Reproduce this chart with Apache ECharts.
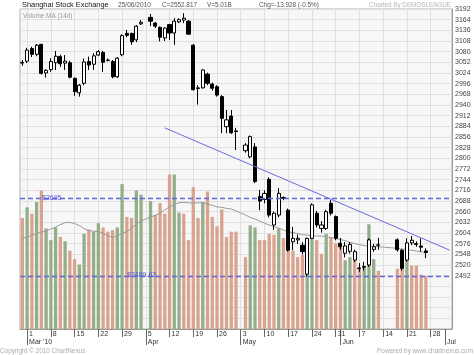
<!DOCTYPE html>
<html><head><meta charset="utf-8">
<script src="https://cdn.jsdelivr.net/npm/echarts@6/dist/echarts.min.js"></script>
<style>html,body{margin:0;padding:0;background:#fff}#c{width:474px;height:355px}</style>
</head><body><div id="c"></div>
<script>
// ---- data ----
const tradeDates = [
'2010-02-26',
'2010-03-01','2010-03-02','2010-03-03','2010-03-04','2010-03-05',
'2010-03-08','2010-03-09','2010-03-10','2010-03-11','2010-03-12',
'2010-03-15','2010-03-16','2010-03-17','2010-03-18','2010-03-19',
'2010-03-22','2010-03-23','2010-03-24','2010-03-25','2010-03-26',
'2010-03-29','2010-03-30','2010-03-31','2010-04-01','2010-04-02',
'2010-04-06','2010-04-07','2010-04-08','2010-04-09',
'2010-04-12','2010-04-13','2010-04-14','2010-04-15','2010-04-16',
'2010-04-19','2010-04-20','2010-04-21','2010-04-22','2010-04-23',
'2010-04-26','2010-04-27','2010-04-28','2010-04-29','2010-04-30',
'2010-05-04','2010-05-05','2010-05-06','2010-05-07',
'2010-05-10','2010-05-11','2010-05-12','2010-05-13','2010-05-14',
'2010-05-17','2010-05-18','2010-05-19','2010-05-20','2010-05-21',
'2010-05-24','2010-05-25','2010-05-26','2010-05-27','2010-05-28',
'2010-05-31','2010-06-01','2010-06-02','2010-06-03','2010-06-04',
'2010-06-07','2010-06-08','2010-06-09','2010-06-10','2010-06-11',
'2010-06-17','2010-06-18',
'2010-06-21','2010-06-22','2010-06-23','2010-06-24','2010-06-25'];

const openPx = [3050,
3055,3088,3073,3099,3024, 3033,3051,3067,3050,3051, 3010,2972,2997,3054,3047,
3071,3078,3058,3054,3014, 3072,3128,3128,3111,3153, 3170,3155,3144,3116,
3151,3129,3158,3163,3160, 3097,2983,2985,3021,2995, 2988,2962,2883,2911,2872,
2820,2804,2830,2700, 2692,2745,2625,2651,2697, 2664,2581,2586,2572,2496,
2590,2656,2616,2616,2682, 2647,2577,2551,2556,2533, 2512,2514,2520,2561,2572,
2586,2559, 2533,2578,2576,2570,2557];
const highPx = [3058,
3090,3093,3100,3101,3034, 3063,3082,3072,3071,3056, 3012,2995,3062,3067,3076,
3084,3082,3062,3058,3066, 3126,3137,3130,3150,3163, 3179,3158,3146,3144,
3153,3168,3168,3181,3163, 3100,2992,3034,3025,2999, 2992,2966,2927,2927,2880,
2840,2860,2840,2717, 2716,2750,2660,2722,2700, 2668,2620,2600,2580,2592,
2682,2662,2635,2665,2691, 2650,2591,2580,2580,2560, 2525,2528,2590,2575,2591,
2590,2562, 2590,2596,2582,2590,2564];
const lowPx = [3043,
3050,3066,3068,3020,3012, 3027,3032,3040,3032,3010, 2964,2962,2992,3032,3032,
3069,3027,3054,3010,3011, 3068,3118,3098,3105,3150, 3147,3142,3107,3108,
3111,3098,3155,3155,3124, 2978,2941,2983,2992,2978, 2962,2866,2866,2864,2822,
2815,2800,2735,2664, 2682,2645,2612,2645,2690, 2555,2559,2575,2548,2489.63,
2588,2618,2605,2612,2650, 2585,2560,2540,2550,2528, 2502,2505,2515,2555,2560,
2555,2505, 2529,2572,2568,2555,2538];
const closePx = [3052,
3084,3073,3097,3023,3031, 3054,3068,3048,3055,3013, 2975,2992,3053,3045,3069,
3080,3052,3057,3014,3063, 3122,3123,3106,3147,3157, 3160,3147,3118,3142,
3129,3160,3164,3168,3126, 2980,2985,3032,2997,2984, 2966,2905,2901,2867,2870,
2835,2857,2739,2688, 2708,2651,2656,2708,2695, 2559,2590,2590,2555,2590,
2678,2625,2625,2660,2656, 2590,2568,2570,2574,2555, 2511,2516,2586,2568,2573,
2560,2511, 2578,2585,2574,2566.745,2552.817];
// volume in billions of shares
const volume = [10.5,
11.5,10.9,12.0,13.1,9.5, 8.4,9.6,8.7,8.3,7.4, 6.6,6.1,9.0,9.4,9.2,
10.0,9.6,9.2,9.35,9.6, 13.7,10.6,10.5,13.1,12.7, 12.1,10.8,11.9,10.9,
14.6,14.6,11.0,10.9,8.4, 13.4,10.5,12.0,13.0,10.6, 9.7,11.3,8.7,9.2,9.2,
6.8,9.8,9.6,8.4, 8.4,9.0,8.9,9.5,8.6, 8.2,7.4,6.8,7.0,8.6,
9.2,8.4,7.1,9.0,8.7, 8.1,8.1,6.5,6.8,6.5, 5.85,5.85,9.9,6.6,5.5,
5.7,5.7, 6.6,6.0,6.0,5.15,5.01];
const volumeUp = [0,
1,0,1,0,1, 1,1,0,1,0, 0,1,1,0,1, 1,0,0,0,1, 1,0,0,1,1, 1,0,0,0,
0,1,1,0,0, 0,0,1,0,0, 0,0,0,0,0, 0,1,1,0, 0,0,0,1,0, 0,0,0,0,1,
1,0,0,1,0, 0,0,1,1,0, 0,1,1,1,0, 0,0, 1,0,0,0,0];
const volumeMA14 = [8.59,
8.68,8.87,9.02,9.16,9.3, 9.44,9.64,9.87,10.05,10.08, 9.97,9.78,9.49,9.3,9.25,
9.2,9.06,8.82,8.65,8.78, 9.06,9.19,9.54,9.92,10.2, 10.6,10.73,10.94,11.26,
11.54,11.78,11.93,11.97,11.93, 11.9,11.93,11.95,11.83,11.69, 11.54,11.5,11.4,11.35,11.16,
10.78,10.54,10.4,10.2, 10.0,9.83,9.68,9.54,9.35, 9.19,9.11,9.02,8.92,8.87,
8.84,8.8,8.78,8.73,8.63, 8.54,8.46,8.35,8.2,8.08, 7.97,7.89,7.82,7.82,7.78,
7.63,7.56, 7.51,7.44,7.37,7.3,7.2];
const priceTicks = {min: 2352, max: 3192, step: 28, lowestLabel: 2492};
const levelLines = [2695, 2489.63];
const trendLine = [['2010-04-09', 2880], ['2010-07-02', 2559]];
const monthMarks = {'2010-03-01': "Mar '10", '2010-04-05': 'Apr', '2010-05-03': 'May', '2010-06-01': 'Jun', '2010-07-01': 'Jul'};
const header = {name: 'Shanghai Stock Exchange', date: '25/06/2010', close: 'C=2552.817', vol: 'V=5.01B', chg: 'Chg=-13.928 (-0.5%)'};

// ---- build ----
const categories = [];
for (let t = Date.UTC(2010,1,26); t <= Date.UTC(2010,6,2); t += 86400000) {
  const d = new Date(t), wd = d.getUTCDay();
  if (wd > 0 && wd < 6) categories.push(d.toISOString().slice(0,10));
}
const idx = new Map(tradeDates.map((d,i)=>[d,i]));
const isMonday = (v) => new Date(v + 'T00:00:00Z').getUTCDay() === 1;
const candleData = categories.map(d => { const i = idx.get(d); return i === undefined ? ['-','-','-','-'] : [openPx[i], closePx[i], lowPx[i], highPx[i]]; });
const GREEN = '#94ae89', SALMON = '#d9a38f';
const volData = categories.map(d => { const i = idx.get(d); return i === undefined ? '-' : {value: volume[i], itemStyle: {color: volumeUp[i] ? GREEN : SALMON}}; });
const maData = categories.map(d => { const i = idx.get(d); return i === undefined ? '-' : volumeMA14[i]; });

const FONT = '"Liberation Sans", Arial, sans-serif';
const chart = echarts.init(document.getElementById('c'), null, {renderer: 'canvas'});
const option = {
  animation: false,
  backgroundColor: '#ffffff',
  textStyle: {fontFamily: FONT},
  grid: {left: 20, right: 22, top: 9, bottom: 26, show: true, backgroundColor: '#f7f7f7', borderColor: '#b0b0b0', borderWidth: 1},
  xAxis: [{
    type: 'category', data: categories, boundaryGap: true, position: 'bottom',
    axisLine: {show: true, lineStyle: {color: '#999'}},
    axisTick: {show: true, alignWithLabel: true, interval: (i, v) => isMonday(v), length: 8, lineStyle: {color: '#666'}},
    axisLabel: {show: true, interval: (i, v) => isMonday(v), formatter: v => String(+v.slice(8)), align: 'left', margin: 2, padding: [0,0,0,2], fontSize: 7, color: '#333', fontFamily: FONT},
    splitLine: {show: true, alignWithLabel: true, interval: (i, v) => isMonday(v), lineStyle: {color: '#e0e0e0', width: 1}}
  }, {
    type: 'category', data: categories, boundaryGap: true, position: 'bottom',
    axisLine: {show: false},
    axisTick: {show: true, alignWithLabel: true, interval: (i, v) => !!monthMarks[v], length: 16, lineStyle: {color: '#666'}},
    axisLabel: {show: true, interval: (i, v) => !!monthMarks[v], formatter: v => monthMarks[v] || '', align: 'left', margin: 10, padding: [0,0,0,2], fontSize: 7, color: '#333', fontFamily: FONT},
    splitLine: {show: false}
  }],
  yAxis: [{
    type: 'value', position: 'right', min: priceTicks.min, max: priceTicks.max, interval: priceTicks.step,
    axisLine: {show: true, lineStyle: {color: '#999'}},
    axisTick: {show: false},
    axisLabel: {fontSize: 7, color: '#444', margin: 3, fontFamily: FONT,
      formatter: v => v >= priceTicks.lowestLabel ? String(v) : ''},
    splitLine: {show: true, lineStyle: {color: '#e0e0e0', width: 1}}
  }, {
    type: 'value', min: 0, max: 30.25, show: false, splitLine: {show: false}
  }],
  series: [{
    type: 'bar', name: 'Volume', xAxisIndex: 0, yAxisIndex: 1, data: volData, barWidth: 3.3, z: 1, silent: true
  }, {
    type: 'line', name: 'Volume MA (14d)', xAxisIndex: 0, yAxisIndex: 1, data: maData, connectNulls: true,
    symbol: 'none', lineStyle: {color: '#9a9a9a', width: 1}, z: 2, silent: true
  }, {
    type: 'line', xAxisIndex: 1, yAxisIndex: 0, data: [], silent: true
  }, {
    type: 'candlestick', name: 'SSE', xAxisIndex: 0, yAxisIndex: 0, data: candleData, barWidth: 3.6, z: 3,
    itemStyle: {color: '#ffffff', color0: '#000000', borderColor: '#000000', borderColor0: '#000000', borderWidth: 1},
    markLine: {
      silent: true, symbol: ['none','none'], animation: false,
      data: [
        {yAxis: levelLines[0], lineStyle: {type: [5,3], color: '#6464e0', width: 1.4},
          label: {show: true, formatter: '$' + levelLines[0], position: 'insideStartTop', distance: [22, -3], color: '#5555dd', fontSize: 7, fontFamily: FONT}},
        {yAxis: levelLines[1], lineStyle: {type: [5,3], color: '#6464e0', width: 1.4},
          label: {show: true, formatter: '$' + levelLines[1], position: 'insideStartTop', distance: [107, -2], color: '#5555dd', fontSize: 7, fontFamily: FONT}},
        [{coord: trendLine[0], lineStyle: {type: 'solid', color: '#6a6ae0', width: 1}, label: {show: false}},
         {coord: trendLine[1]}]
      ]
    }
  }],
  graphic: [
    {type: 'text', x: 22, y: 5, style: {text: header.name, fontSize: 7.4, fontFamily: FONT, fill: '#111', textVerticalAlign: 'middle'}},
    {type: 'text', x: 118, y: 5, style: {text: header.date, fontSize: 6.6, fontFamily: FONT, fill: '#555', textVerticalAlign: 'middle'}},
    {type: 'text', x: 162, y: 5, style: {text: header.close, fontSize: 6.4, fontFamily: FONT, fill: '#555', textVerticalAlign: 'middle'}},
    {type: 'text', x: 207, y: 5, style: {text: header.vol, fontSize: 6.4, fontFamily: FONT, fill: '#555', textVerticalAlign: 'middle'}},
    {type: 'text', x: 259, y: 5, style: {text: header.chg, fontSize: 6.4, fontFamily: FONT, fill: '#555', textVerticalAlign: 'middle'}},
    {type: 'text', x: 451, y: 5, style: {text: 'Charted By DEMOSLEAGUE', fontSize: 6.3, fontFamily: FONT, fill: '#b4b4b4', textAlign: 'right', textVerticalAlign: 'middle'}},
    {type: 'text', x: 23, y: 16, z: 10, style: {text: 'Volume MA (14d)', fontSize: 6.4, fontFamily: FONT, fill: '#9a9a9a', textVerticalAlign: 'middle'}},
    {type: 'text', x: 0, y: 351, style: {text: 'Copyright \u00a9 2010 ChartNexus', fontSize: 6.4, fontFamily: FONT, fill: '#aaaaaa', textVerticalAlign: 'middle'}},
    {type: 'text', x: 473, y: 351, style: {text: 'Powered by www.chartnexus.com', fontSize: 6.4, fontFamily: FONT, fill: '#aaaaaa', textAlign: 'right', textVerticalAlign: 'middle'}}
  ]
};
chart.setOption(option);
</script></body></html>
